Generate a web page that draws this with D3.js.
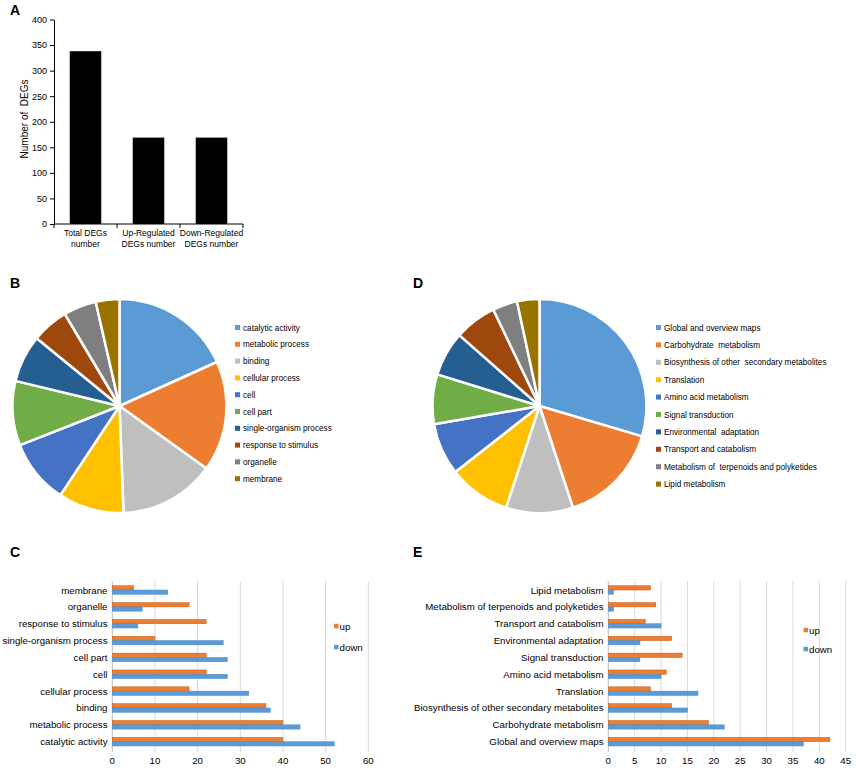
<!DOCTYPE html>
<html lang="en">
<head>
<meta charset="UTF-8">
<title>DEG summary, GO and KEGG classification</title>
<script src="https://d3js.org/d3.v7.min.js"></script>
<style>
  body { margin: 0; background: #fff; }
  svg text { font-family: "Liberation Sans", Arial, sans-serif; fill: #000; }
</style>
</head>
<body>
<svg width="856" height="768"></svg>
<script>
// ---- data ----
var degLabels = ["Total DEGs\nnumber", "Up-Regulated\nDEGs number", "Down-Regulated\nDEGs number"];
var degCounts = [338, 169, 169];
var degTicks = [0, 50, 100, 150, 200, 250, 300, 350, 400];

var goTerms = ["catalytic activity", "metabolic process", "binding", "cellular process", "cell",
  "cell part", "single-organism process", "response to stimulus", "organelle", "membrane"];
var goPie = [92, 84, 73, 50, 49, 49, 36, 28, 25, 18];
var goUp = [40, 40, 36, 18, 22, 22, 10, 22, 18, 5];
var goDown = [52, 44, 37, 32, 27, 27, 26, 6, 7, 13];
var goTicks = [0, 10, 20, 30, 40, 50, 60];

var keggTerms = ["Global and overview maps", "Carbohydrate metabolism", "Biosynthesis of other secondary metabolites",
  "Translation", "Amino acid metabolism", "Signal transduction", "Environmental adaptation",
  "Transport and catabolism", "Metabolism of terpenoids and polyketides", "Lipid metabolism"];
var keggLegend = ["Global and overview maps", "Carbohydrate  metabolism", "Biosynthesis of other  secondary metabolites",
  "Translation", "Amino acid metabolism", "Signal transduction", "Environmental  adaptation",
  "Transport and catabolism", "Metabolism of  terpenoids and polyketides", "Lipid metabolism"];
var keggPie = [79, 41, 27, 25, 21, 20, 18, 17, 10, 9];
var keggUp = [42, 19, 12, 8, 11, 14, 12, 7, 9, 8];
var keggDown = [37, 22, 15, 17, 10, 6, 6, 10, 1, 1];
var keggTicks = [0, 5, 10, 15, 20, 25, 30, 35, 40, 45];

var pieColors = ["#5B9BD5", "#ED7D31", "#BFBFBF", "#FFC000", "#4472C4",
  "#70AD47", "#255E91", "#9E480E", "#7F7F7F", "#997300"];
var upColor = "#ED7D31", downColor = "#5B9BD5";

var svg = d3.select("svg");

// panel letters
[["A", 10, 15], ["B", 10, 288], ["D", 413, 288], ["C", 10, 557], ["E", 413, 557]].forEach(function(p) {
  svg.append("text").attr("x", p[1]).attr("y", p[2])
    .attr("font-size", "14px").attr("font-weight", "bold").text(p[0]);
});

// ---- A: bar chart of DEG numbers ----
var a = svg.append("g");
var ax = d3.scaleBand().domain(degLabels).range([54, 243]).paddingInner(0.5).paddingOuter(0.25);
var ay = d3.scaleLinear().domain([0, 400]).range([224, 19.5]);

a.selectAll("rect").data(degCounts).enter().append("rect")
  .attr("x", function(d, i) { return ax(degLabels[i]); })
  .attr("y", function(d) { return ay(d); })
  .attr("width", ax.bandwidth())
  .attr("height", function(d) { return ay(0) - ay(d); })
  .attr("fill", "#000");

var yAxisA = a.append("g").attr("transform", "translate(54,0)")
  .call(d3.axisLeft(ay).tickValues(degTicks).tickSize(4).tickSizeOuter(0));
yAxisA.selectAll("text").attr("font-size", "9px").attr("font-family", "Liberation Sans, Arial, sans-serif");
yAxisA.select(".domain").attr("stroke", "#000");

// x axis with ticks between categories
a.append("line").attr("x1", 54).attr("x2", 243).attr("y1", 224).attr("y2", 224).attr("stroke", "#000");
d3.range(4).forEach(function(i) {
  var x = 54 + (243 - 54) * i / 3;
  a.append("line").attr("x1", x).attr("x2", x).attr("y1", 224).attr("y2", 228).attr("stroke", "#000");
});
degLabels.forEach(function(lbl, i) {
  var t = a.append("text").attr("text-anchor", "middle").attr("font-size", "8.5px")
    .attr("x", ax(lbl) + ax.bandwidth() / 2).attr("y", 236);
  lbl.split("\n").forEach(function(line, j) {
    t.append("tspan").attr("x", ax(lbl) + ax.bandwidth() / 2).attr("dy", j ? 11 : 0).text(line);
  });
});
a.append("text").attr("transform", "translate(28,119) rotate(-90)")
  .attr("text-anchor", "middle").attr("font-size", "10px").style("white-space", "pre")
  .text("Number of  DEGs");

// ---- pies ----
function drawPie(cx, cy, values, labels, legX, legY, legStep) {
  var g = svg.append("g").attr("transform", "translate(" + cx + "," + cy + ")");
  var pie = d3.pie().sort(null).value(function(d) { return d; });
  var arc = d3.arc().innerRadius(0).outerRadius(107);
  g.selectAll("path").data(pie(values)).enter().append("path")
    .attr("d", arc)
    .attr("fill", function(d, i) { return pieColors[i]; })
    .attr("stroke", "#fff")
    .attr("stroke-width", 2.5)
    .attr("stroke-linejoin", "round");

  var leg = svg.append("g");
  labels.forEach(function(lbl, i) {
    var y = legY + i * legStep;
    leg.append("rect").attr("x", legX).attr("y", y - 2.5).attr("width", 5).attr("height", 5)
      .attr("fill", pieColors[i]);
    leg.append("text").attr("x", legX + 8).attr("y", y + 3).attr("font-size", "8.2px")
      .attr("fill", "#333").style("white-space", "pre").text(lbl);
  });
}
drawPie(119.5, 406, goPie, goTerms, 235, 327.5, 16.8);
drawPie(539.5, 406, keggPie, keggLegend, 656, 327.5, 17.4);

// ---- horizontal grouped bars ----
function drawBars(terms, up, down, ticks, x0, x1, labelX, legX, legY1, legY2) {
  var g = svg.append("g");
  var x = d3.scaleLinear().domain([0, ticks[ticks.length - 1]]).range([x0, x1]);
  var y = d3.scaleBand().domain(terms.slice().reverse()).range([581.6, 750.1]);
  var h = 4.3;

  g.selectAll("line.grid").data(ticks.slice(1)).enter().append("line")
    .attr("class", "grid")
    .attr("x1", function(d) { return x(d); }).attr("x2", function(d) { return x(d); })
    .attr("y1", 581).attr("y2", 752)
    .attr("stroke", "#D9D9D9").attr("stroke-width", 1);
  g.append("line").attr("x1", x(0)).attr("x2", x(0)).attr("y1", 581).attr("y2", 752)
    .attr("stroke", "#BFBFBF").attr("stroke-width", 1);

  terms.forEach(function(t, i) {
    var cy = y(t) + y.bandwidth() / 2;
    g.append("rect").attr("x", x(0)).attr("y", cy - h).attr("width", x(up[i]) - x(0)).attr("height", h)
      .attr("fill", upColor).attr("stroke", "#C55A11").attr("stroke-width", 0.5);
    g.append("rect").attr("x", x(0)).attr("y", cy).attr("width", x(down[i]) - x(0)).attr("height", h)
      .attr("fill", downColor).attr("stroke", "#4A8AC8").attr("stroke-width", 0.5);
    g.append("text").attr("x", labelX).attr("y", cy + 3.5).attr("text-anchor", "end")
      .attr("font-size", "9.7px").text(t);
  });

  g.selectAll("text.tick").data(ticks).enter().append("text")
    .attr("class", "tick")
    .attr("x", function(d) { return x(d); }).attr("y", 764)
    .attr("text-anchor", "middle").attr("font-size", "9.7px").text(function(d) { return d; });

  [["up", upColor, legY1], ["down", downColor, legY2]].forEach(function(l) {
    g.append("rect").attr("x", legX).attr("y", l[2] - 2.2).attr("width", 4.5).attr("height", 4.5).attr("fill", l[1]);
    g.append("text").attr("x", legX + 5.5).attr("y", l[2] + 3.5).attr("font-size", "9.7px").text(l[0]);
  });
}
drawBars(goTerms, goUp, goDown, goTicks, 112.3, 368.3, 107.5, 334, 626, 647);
drawBars(keggTerms, keggUp, keggDown, keggTicks, 608.3, 845.7, 603.5, 803.5, 630, 649);
</script>
</body>
</html>
